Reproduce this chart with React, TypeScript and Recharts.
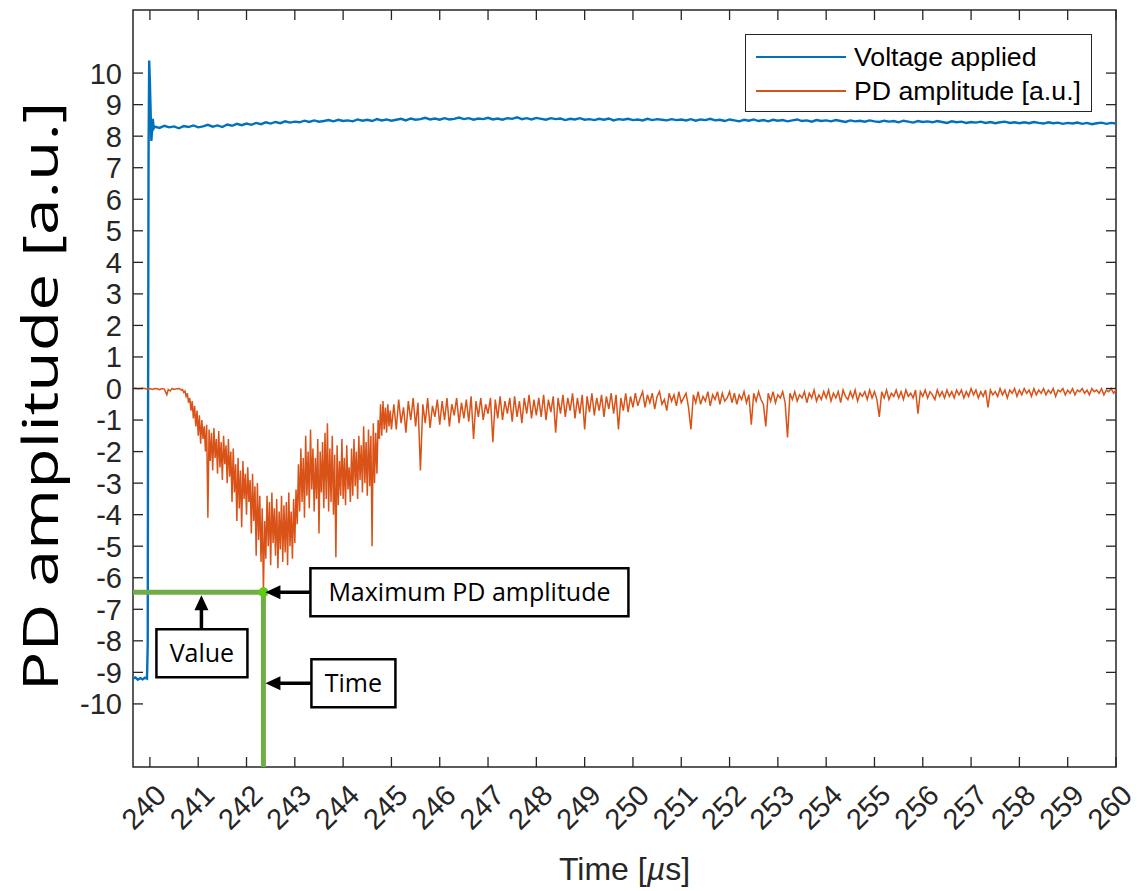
import React from 'react';
import {
  LineChart,
  Line,
  XAxis,
  YAxis,
  ReferenceLine,
  ReferenceDot,
  ReferenceArea,
} from 'recharts';

const BLUE = '#0072BD';
const ORANGE = '#D95319';
const GREEN = '#70AD47';
const GREEN_DOT = '#5FCB12';
const AXIS = '#262626';
const SANS = '"Liberation Sans", Arial, Helvetica, sans-serif';
const NOTE_FONT = '"Open Sans", "Noto Sans", sans-serif';

const X_MIN = 239.65;
const X_MAX = 260;
const Y_MIN = -12;
const Y_MAX = 12;

const xTicks = [240, 241, 242, 243, 244, 245, 246, 247, 248, 249, 250, 251, 252, 253, 254, 255, 256, 257, 258, 259, 260];
const yTicks = [-10, -9, -8, -7, -6, -5, -4, -3, -2, -1, 0, 1, 2, 3, 4, 5, 6, 7, 8, 9, 10];

const seriesNames = ['Voltage applied', 'PD amplitude [a.u.]'];
const noteLabels = ['Maximum PD amplitude', 'Value', 'Time'];

// voltage: the switching edge sampled finely, then the plateau on a 0.1 µs grid
const voltageEdge: [number, number][] = [
  [239.65, -9.2], [239.7, -9.16], [239.75, -9.23], [239.8, -9.18], [239.85, -9.22],
  [239.9, -9.17], [239.94, -9.2], [239.955, -8.1], [239.962, -0.6], [239.972, 7.4],
  [239.985, 10.4], [240.0, 9.7], [240.03, 7.85], [240.06, 8.55], [240.08, 8.25],
];
const VOLT_T0 = 240.1;
const VOLT_DT = 0.1;
const voltagePlateau = [
  8.3, 8.26, 8.33, 8.28, 8.31, 8.25, 8.32, 8.29, 8.34, 8.28,
  8.31, 8.36, 8.3, 8.34, 8.29, 8.37, 8.33, 8.39, 8.35, 8.4,
  8.36, 8.42, 8.38, 8.44, 8.4, 8.45, 8.41, 8.47, 8.43, 8.46,
  8.44, 8.49, 8.45, 8.5, 8.46, 8.48, 8.51, 8.47, 8.52, 8.48,
  8.5, 8.47, 8.53, 8.49, 8.52, 8.48, 8.54, 8.5, 8.53, 8.49,
  8.52, 8.55, 8.5, 8.56, 8.52, 8.54, 8.58, 8.53, 8.56, 8.52,
  8.57, 8.53, 8.55, 8.59, 8.54, 8.57, 8.52, 8.56, 8.54, 8.58,
  8.53, 8.56, 8.52, 8.57, 8.55, 8.6, 8.54, 8.57, 8.53, 8.58,
  8.55, 8.52, 8.57, 8.54, 8.56, 8.51, 8.55, 8.53, 8.57, 8.52,
  8.54, 8.51, 8.55, 8.52, 8.56, 8.5, 8.54, 8.52, 8.55, 8.51,
  8.53, 8.5, 8.55, 8.51, 8.54, 8.52, 8.5, 8.54, 8.51, 8.53,
  8.5, 8.54, 8.49, 8.53, 8.51, 8.55, 8.5, 8.52, 8.48, 8.53,
  8.5, 8.47, 8.52, 8.49, 8.53, 8.48, 8.51, 8.47, 8.52, 8.49,
  8.51, 8.47, 8.5, 8.53, 8.48, 8.5, 8.46, 8.51, 8.48, 8.5,
  8.47, 8.51, 8.48, 8.45, 8.5, 8.47, 8.49, 8.46, 8.5, 8.47,
  8.45, 8.49, 8.46, 8.48, 8.44, 8.49, 8.46, 8.43, 8.48, 8.45,
  8.47, 8.44, 8.48, 8.45, 8.42, 8.47, 8.44, 8.46, 8.42, 8.45,
  8.43, 8.46, 8.42, 8.45, 8.41, 8.44, 8.46, 8.42, 8.44, 8.41,
  8.44, 8.41, 8.45, 8.42, 8.4, 8.44, 8.41, 8.43, 8.39, 8.42,
  8.4, 8.43, 8.39, 8.42, 8.38, 8.41, 8.43, 8.39, 8.42, 8.4,
];

// PD signal before onset
const pdStart: [number, number][] = [
  [239.65, 0], [239.7, 0.01], [239.75, -0.01], [239.8, 0], [239.85, 0.01],
  [239.9, 0], [239.95, -0.02], [240.0, 0], [240.05, -0.03], [240.1, 0],
  [240.15, -0.01], [240.2, -0.04], [240.25, 0], [240.3, -0.02], [240.35, -0.2],
  [240.38, -0.03], [240.42, -0.08], [240.46, 0], [240.5, -0.03], [240.55, -0.01],
];
// main discharge burst, 25 ns grid
const PD_RISE_T0 = 240.6;
const PD_RISE_DT = 0.025;
const pdRise = [
  0.0, -0.02, -0.05, -0.03, -0.12, -0.08, -0.25, -0.15,
  -0.45, -0.3, -0.7, -0.4, -0.95, -0.55, -1.2, -0.7,
  -1.5, -0.85, -1.75, -1.0, -1.6, -1.2, -2.0, -1.15,
  -4.1, -1.3, -2.3, -1.4, -2.6, -1.25, -2.2, -1.6,
  -2.7, -1.35, -2.5, -1.7, -2.9, -1.5, -2.4, -1.8,
  -3.0, -1.6, -2.8, -2.0, -3.6, -1.9, -3.3, -2.4,
  -4.2, -2.2, -3.8, -2.6, -4.4, -2.3, -3.5, -2.7,
  -4.0, -2.5, -3.6, -2.9, -4.6, -2.7, -4.2, -3.1,
  -5.3, -3.0, -4.8, -3.4, -5.5, -3.8, -6.46, -4.2,
  -5.4, -3.4, -5.0, -3.6, -5.6, -3.3, -4.9, -3.8,
  -5.3, -3.5, -5.7, -3.9, -5.1, -3.4, -5.5, -3.7,
  -5.2, -3.6, -5.6, -3.3, -5.0, -3.9, -5.4, -3.5,
  -4.9, -3.2, -4.3, -2.4, -3.9, -1.9, -3.6, -2.2,
  -4.1, -1.5, -3.4, -2.0, -3.8, -1.3, -3.2, -1.9,
  -3.9, -2.2, -3.5, -1.6, -4.6, -2.0, -3.3, -1.7,
  -3.8, -1.4, -3.5, -1.1, -3.9, -1.9, -3.6, -1.5,
  -4.0, -2.1, -5.35, -1.8, -3.7, -2.3, -3.4, -1.6,
  -3.5, -2.2, -3.7, -1.8, -3.2, -2.5, -3.6, -1.9,
  -3.4, -1.6, -3.1, -2.0, -3.5, -1.5, -2.9, -1.8,
  -3.3, -1.2, -3.0, -1.7, -3.4, -1.3, -3.1, -1.5,
  -5.0, -1.1, -3.0, -1.4, -2.7, -1.0, -1.6, -0.5,
  -1.5, -0.4, -1.3, -0.6, -1.4, -0.5, -1.2, -0.7,
  -1.3,
];
// decay, 50 ns grid
const PD_TAIL_T0 = 245.05;
const PD_TAIL_DT = 0.05;
const pdTail = [
  -0.5, -1.3, -0.35, -1.1, -0.6, -1.4, -0.4, -1.0, -0.3, -1.2,
  -0.45, -2.6, -0.5, -1.1, -0.3, -1.25, -0.55, -0.9, -0.35, -1.15,
  -0.4, -1.0, -0.3, -1.2, -0.5, -0.85, -0.3, -1.1, -0.45, -0.95,
  -0.35, -1.05, -0.25, -1.6, -0.4, -0.9, -0.3, -1.0, -0.5, -0.8,
  -0.3, -1.7, -0.35, -0.95, -0.25, -1.0, -0.4, -0.8, -0.3, -1.05,
  -0.25, -0.9, -0.4, -1.1, -0.3, -0.8, -0.2, -0.95, -0.35, -0.85,
  -0.3, -0.9, -0.2, -1.0, -0.35, -0.75, -0.25, -1.4, -0.3, -0.8,
  -0.2, -0.9, -0.3, -0.7, -0.15, -0.95, -0.3, -0.8, -0.2, -1.3,
  -0.25, -0.75, -0.15, -0.85, -0.3, -0.7, -0.2, -0.9, -0.25, -0.65,
  -0.15, -0.8, -0.2, -1.3, -0.3, -0.7, -0.15, -0.75, -0.25, -0.6,
];
// late tail, 50 ns grid
const PD_LATE_T0 = 250.05;
const PD_LATE_DT = 0.05;
const pdLate = [
  -0.15, -0.55, -0.3, -0.1, -0.6, -0.2, -0.45, -0.15, -0.65, -0.25,
  -0.1, -0.5, -0.35, -0.7, -0.15, -0.4, -0.2, -0.55, -0.1, -0.45,
  -0.3, -0.15, -0.6, -1.3, -0.2, -0.45, -0.1, -0.5, -0.25, -0.4,
  -0.1, -0.55, -0.2, -0.35, -0.1, -0.5, -0.15, -0.4, -0.3, -0.1,
  -0.45, -0.15, -0.5, -0.2, -0.35, -0.1, -0.45, -0.2, -1.15, -0.15,
  -0.4, -0.1, -0.35, -0.5, -1.2, -0.15, -0.4, -0.1, -0.45, -0.2,
  -0.3, -0.1, -0.45, -1.55, -0.15, -0.35, -0.1, -0.4, -0.2, -0.3,
  -0.1, -0.45, -0.15, -0.3, -0.05, -0.4, -0.2, -0.35, -0.1, -0.3,
  -0.05, -0.4, -0.15, -0.3, -0.1, -0.45, -0.05, -0.25, -0.35, -0.1,
  -0.3, -0.05, -0.4, -0.15, -0.25, -0.1, -0.35, -0.05, -0.3, -0.1,
  -0.35, -0.9, -0.1, -0.3, -0.05, -0.35, -0.15, -0.25, -0.05, -0.3,
  -0.1, -0.35, -0.05, -0.25, -0.15, -0.3, -0.05, -0.8, -0.1, -0.25,
  -0.05, -0.3, -0.1, -0.2, -0.35, -0.05, -0.25, -0.1, -0.3, -0.05,
  -0.25, -0.1, -0.3, -0.05, -0.2, -0.05, -0.3, -0.1, -0.25, 0.0,
  -0.2, -0.05, -0.3, -0.1, -0.25, -0.05, -0.6, -0.05, -0.2, -0.1,
  -0.25, 0.0, -0.2, -0.05, -0.3, -0.05, -0.15, 0.0, -0.25, -0.05,
  -0.2, 0.0, -0.15, -0.05, -0.25, 0.0, -0.2, -0.05, -0.15, 0.0,
  -0.2, -0.05, -0.15, 0.0, -0.25, -0.05, -0.1, 0.0, -0.2, -0.05,
  -0.15, 0.0, -0.2, -0.05, -0.1, 0.0, -0.15, -0.05, -0.2, 0.0,
  -0.1, -0.05, -0.15, 0.0, -0.2, -0.05, -0.1, 0.0, -0.15, -0.05,
];

type Pt = { t: number; v: number };
const grid = (t0: number, dt: number, vals: number[]): Pt[] =>
  vals.map((v, i) => ({ t: +(t0 + i * dt).toFixed(3), v }));
const pairs = (p: [number, number][]): Pt[] => p.map(([t, v]) => ({ t, v }));

const voltageData = [...pairs(voltageEdge), ...grid(VOLT_T0, VOLT_DT, voltagePlateau)];
const pdData = [
  ...pairs(pdStart),
  ...grid(PD_RISE_T0, PD_RISE_DT, pdRise),
  ...grid(PD_TAIL_T0, PD_TAIL_DT, pdTail),
  ...grid(PD_LATE_T0, PD_LATE_DT, pdLate),
];
const peak = pdData.reduce((m, p) => (p.v < m.v ? p : m), pdData[0]);

// layout (the wrapper cancels the body's left margin so the svg spans the full width)
const CHART_W = 1142;
const CHART_H = 883;
const MARGIN = { top: 2, right: 26, bottom: 0, left: 0 };
const Y_AXIS_W = 133;
const X_AXIS_H = 124;
const PLOT_LEFT = MARGIN.left + Y_AXIS_W;
const PLOT_RIGHT = CHART_W - MARGIN.right;
const PLOT_TOP = MARGIN.top;
const PLOT_BOTTOM = CHART_H - MARGIN.bottom - X_AXIS_H;
const TICK_LEN = 10;

const YTick = ({ x, y, payload }: any) => (
  <g>
    <line x1={PLOT_LEFT} x2={PLOT_LEFT + TICK_LEN} y1={y} y2={y} stroke={AXIS} strokeWidth={1.3} />
    <line x1={PLOT_RIGHT - TICK_LEN} x2={PLOT_RIGHT} y1={y} y2={y} stroke={AXIS} strokeWidth={1.3} />
    <text x={x} y={y} dy="0.36em" textAnchor="end" fontFamily={SANS} fontSize={29} fill={AXIS}>
      {payload.value}
    </text>
  </g>
);

const XTick = ({ x, payload }: any) => (
  <g>
    <line x1={x} x2={x} y1={PLOT_BOTTOM - TICK_LEN} y2={PLOT_BOTTOM} stroke={AXIS} strokeWidth={1.3} />
    <line x1={x} x2={x} y1={PLOT_TOP} y2={PLOT_TOP + TICK_LEN} stroke={AXIS} strokeWidth={1.3} />
    <text
      transform={`translate(${x + 18},${PLOT_BOTTOM + 30}) rotate(-45)`}
      textAnchor="end"
      fontFamily={SANS}
      fontSize={29}
      fill={AXIS}
    >
      {payload.value}
    </text>
  </g>
);

const XLabel = () => (
  <text x={(PLOT_LEFT + PLOT_RIGHT) / 2} y={CHART_H - 11} textAnchor="middle" fontFamily={SANS} fontSize={32} fill={AXIS}>
    Time [<tspan fontStyle="italic">µ</tspan>s]
  </text>
);

// tall, slightly stretched axis title
const YLabel = () => (
  <text
    transform={`translate(58,${(PLOT_TOP + PLOT_BOTTOM) / 2 + 8}) rotate(-90) scale(1.32,1)`}
    textAnchor="middle"
    fontFamily={NOTE_FONT}
    fontSize={50}
    fill="#000"
  >
    PD amplitude [a.u.]
  </text>
);

// boxed call-out text
const NoteBox = ({ x, y, w, h, text }: { x: number; y: number; w: number; h: number; text: string }) => (
  <g>
    <rect x={x} y={y} width={w} height={h} fill="#fff" stroke="#000" strokeWidth={2.5} />
    <text x={x + w / 2} y={y + h / 2} dy="0.36em" textAnchor="middle" fontFamily={NOTE_FONT} fontSize={25} fill="#000">
      {text}
    </text>
  </g>
);

// arrows whose tip sits at (tx, ty)
const ArrowLeft = ({ tx, ty, x2 }: { tx: number; ty: number; x2: number }) => (
  <g>
    <line x1={tx + 14} x2={x2} y1={ty} y2={ty} stroke="#000" strokeWidth={3.5} />
    <polygon points={`${tx},${ty} ${tx + 15},${ty - 7} ${tx + 15},${ty + 7}`} fill="#000" />
  </g>
);

const ArrowUp = ({ tx, ty, y2 }: { tx: number; ty: number; y2: number }) => (
  <g>
    <line x1={tx} x2={tx} y1={ty + 14} y2={y2} stroke="#000" strokeWidth={3.5} />
    <polygon points={`${tx},${ty} ${tx - 7},${ty + 15} ${tx + 7},${ty + 15}`} fill="#000" />
  </g>
);

const PeakMarker = ({ cx, cy }: any) => (
  <g>
    <circle cx={cx} cy={cy} r={5} fill={GREEN_DOT} />
    <ArrowLeft tx={cx + 2} ty={cy} x2={cx + 47} />
    <NoteBox x={cx + 47} y={cy - 24} w={318} h={48} text={noteLabels[0]} />
    <ArrowUp tx={cx - 62} ty={cy + 3} y2={cy + 37} />
    <NoteBox x={cx - 107} y={cy + 37} w={91} h={48} text={noteLabels[1]} />
    <ArrowLeft tx={cx + 2} ty={cy + 91} x2={cx + 48} />
    <NoteBox x={cx + 48} y={cy + 67} w={84} h={48} text={noteLabels[2]} />
  </g>
);

const Legend = () => (
  <div
    style={{
      position: 'absolute',
      left: 745,
      top: 26,
      width: 345,
      height: 76,
      border: `1px solid ${AXIS}`,
      background: '#fff',
      fontFamily: SANS,
      fontSize: 26.7,
      color: '#000',
    }}
  >
    {seriesNames.map((name, i) => (
      <div key={name} style={{ position: 'absolute', left: 0, top: 22 + i * 34 - 16, height: 32, display: 'flex', alignItems: 'center' }}>
        <div style={{ width: 90, height: 2, marginLeft: 10, background: i === 0 ? BLUE : ORANGE }} />
        <span style={{ marginLeft: 8, lineHeight: '32px', whiteSpace: 'nowrap' }}>{name}</span>
      </div>
    ))}
  </div>
);

export default function App() {
  return (
    <div style={{ position: 'relative', marginLeft: -8, width: CHART_W, height: CHART_H, background: '#fff' }}>
      <LineChart width={CHART_W} height={CHART_H} margin={MARGIN}>
        <XAxis
          dataKey="t"
          type="number"
          domain={[X_MIN, X_MAX]}
          allowDataOverflow
          ticks={xTicks}
          interval={0}
          height={X_AXIS_H}
          tickSize={0}
          tickMargin={0}
          axisLine={false}
          tickLine={false}
          tick={<XTick />}
          label={<XLabel />}
        />
        <YAxis
          type="number"
          domain={[Y_MIN, Y_MAX]}
          allowDataOverflow
          ticks={yTicks}
          interval={0}
          width={Y_AXIS_W}
          tickSize={0}
          tickMargin={11}
          axisLine={false}
          tickLine={false}
          tick={<YTick />}
          label={<YLabel />}
        />
        <ReferenceArea x1={X_MIN} x2={X_MAX} y1={Y_MIN} y2={Y_MAX} fill="none" stroke={AXIS} strokeWidth={1.5} />
        <Line
          data={voltageData}
          dataKey="v"
          name={seriesNames[0]}
          type="linear"
          stroke={BLUE}
          strokeWidth={2.4}
          dot={false}
          isAnimationActive={false}
        />
        <Line
          data={pdData}
          dataKey="v"
          name={seriesNames[1]}
          type="linear"
          stroke={ORANGE}
          strokeWidth={1.5}
          dot={false}
          isAnimationActive={false}
        />
        <ReferenceLine
          segment={[{ x: X_MIN, y: peak.v }, { x: peak.t, y: peak.v }]}
          stroke={GREEN}
          strokeWidth={5}
        />
        <ReferenceLine
          segment={[{ x: peak.t, y: peak.v }, { x: peak.t, y: Y_MIN }]}
          stroke={GREEN}
          strokeWidth={5}
        />
        <ReferenceDot x={peak.t} y={peak.v} r={5} shape={<PeakMarker />} />
      </LineChart>
      <Legend />
    </div>
  );
}
